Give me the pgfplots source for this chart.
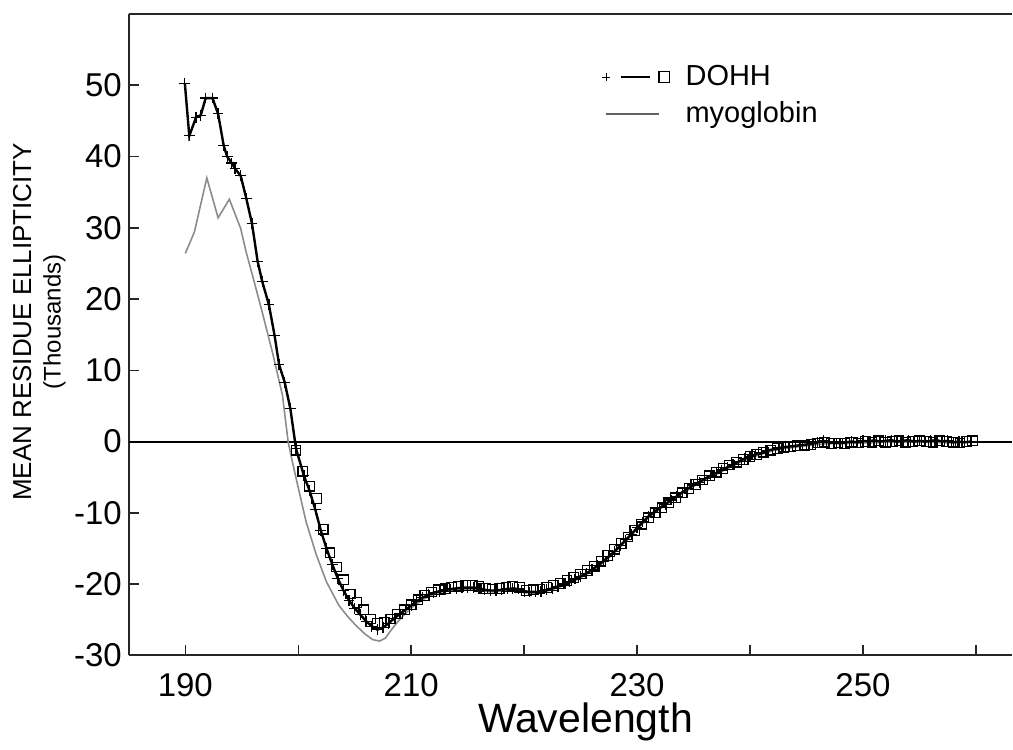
\documentclass[border=0pt]{standalone}
\usepackage{fontspec}
\setmainfont{Liberation Sans}
\usepackage{pgfplots}
\pgfplotsset{compat=1.18}

\definecolor{myo}{HTML}{8C8C8C}

\begin{document}
\begin{tikzpicture}
\begin{axis}[
  scale only axis, width=442pt, height=321pt,
  xmin=185, xmax=263.2, ymin=-30, ymax=60,
  axis x line=box, axis y line=left,
  axis line style={-, line width=1pt, black!85},
  xtick={190,210,230,250}, minor xtick={200,220,240,260},
  ytick={-30,-20,...,50},
  xtick pos=left, ytick pos=left,
  tick align=inside,
  major tick length=5pt, minor tick length=5pt,
  every tick/.style={black!85, line width=0.75pt},
  tick label style={font=\fontsize{16.5}{18}\selectfont},
  /pgf/number format/assume math mode=true,
  xticklabel style={yshift=-5.5pt},
  extra y ticks={0}, extra y tick labels={},
  extra y tick style={grid=major, major grid style={black, line width=1pt}, major tick length=0pt},
  xlabel={Wavelength},
  xlabel style={font=\fontsize{20.5}{22}\selectfont, at={(axis description cs:0.517,0)}, anchor=north, yshift=-20.3pt},
  ylabel={\fontsize{13}{16.5}\selectfont MEAN RESIDUE ELLIPTICITY\\[2.7pt]\fontsize{12}{13}\selectfont (Thousands)},
  ylabel style={align=center, at={(axis description cs:0,0.52)}, anchor=center, yshift=44.85pt},
  reverse legend,
  legend style={at={(axis cs:226.9,53.7)}, anchor=north west, draw=none, fill=none,
    font=\fontsize{14.5}{16}\selectfont, inner sep=0pt,
    nodes={inner ysep=3.2pt, inner xsep=4pt}},
  legend cell align=left,
]
% myoglobin
\addplot[myo, line width=0.8pt,
  legend image code/.code={\draw[myo!70!black, line width=0.9pt] (0pt,0pt) -- (26.5pt,0pt);
    \path (35pt,0pt);}]
  coordinates {
(190.0,26.4) (190.8,29.4) (191.9,37.0) (192.9,31.4) (193.9,34.0) (194.9,29.9)
(195.4,26.5) (196.0,23.0) (196.8,18.2) (197.7,12.6) (198.6,6.5) (199.1,0.0)
(199.5,-3.0) (199.9,-5.8) (200.7,-11.3) (201.6,-15.9) (202.5,-19.7) (203.6,-23.0)
(204.4,-24.6) (205.1,-25.8) (205.9,-27.0) (206.6,-27.8) (207.2,-28.0) (207.7,-27.6)
(208.2,-26.5) (208.8,-25.3) (209.5,-24.1) (210.2,-23.1) (211,-22.2) (212,-21.4)
(213,-21.0) (214,-20.8) (215,-20.7) (216,-20.8) (217,-21.1) (218,-21.0) (219,-20.9)
(220,-21.2) (221,-21.3) (222,-21.0) (223,-20.5) (224,-19.9) (225,-19.1) (226,-18.2)
(227,-17.0) (228,-15.6) (229,-14.0) (230,-12.3) (231,-10.7) (232,-9.5) (233,-8.4)
(234,-7.3) (235,-6.3) (236,-5.4) (237,-4.6) (238,-3.8) (239,-3.0) (240,-2.3)
(241,-1.8) (242,-1.3) (243,-1.0) (244,-0.8) (245,-0.6) (246,-0.4) (247,-0.3)
(248,-0.3) (250,-0.2) (252,-0.1) (254,-0.1) (256,-0.1) (258,-0.2) (259.5,-0.1)
};
\addlegendentry{myoglobin}
% DOHH, crosses
\addplot[black, line width=1.2pt, mark=+, mark size=2.7pt, mark options={line width=0.6pt},
  legend image code/.code={
    \draw[black, line width=1.2pt] (7.5pt,0pt) -- (22pt,0pt);
    \draw[black, line width=0.6pt] plot[mark=+, mark size=2pt] coordinates {(0pt,0pt)};
    \draw[black, line width=0.6pt] plot[mark=square, mark size=2.7pt] coordinates {(29pt,0pt)};
    \path (35pt,0pt);}]
  coordinates {
(189.96,50.2) (190.35,42.9) (190.95,45.5) (191.37,45.8) (191.8,48.2) (192.4,48.2)
(192.9,46.0) (193.4,41.5) (193.7,40.0) (194.1,39.1) (194.4,38.3) (194.9,37.3)
(195.4,34.1) (195.9,30.6) (196.4,25.3) (196.8,22.5) (197.4,19.2) (197.9,14.9)
(198.3,10.8) (198.8,8.3) (199.3,4.6) (199.8,-1.0)
(200.5,-4.8) (201,-6.9) (201.5,-9.5) (202,-12.5) (202.5,-15.0) (203,-17.2)
(203.5,-19.2) (204,-20.9) (204.5,-22.3) (205,-23.4) (205.5,-24.3) (206,-25.2)
(206.5,-25.9) (207,-26.4) (207.5,-26.1) (208,-25.5) (208.5,-24.8) (209,-24.2)
(209.5,-23.6) (210,-23.0) (210.5,-22.4) (211,-21.9) (211.5,-21.5) (212,-21.2)
(212.5,-21.0) (213,-20.8) (213.5,-20.7) (214,-20.6) (214.5,-20.5) (215,-20.5)
(215.5,-20.5) (216,-20.6) (216.5,-20.8) (217,-20.9) (217.5,-20.9) (218,-20.8)
(218.5,-20.7) (219,-20.6) (219.5,-20.7) (220,-21.0) (220.5,-21.1) (221,-21.1)
(221.5,-21.0) (222,-20.8) (222.5,-20.6) (223,-20.3) (223.5,-20.0) (224,-19.7)
(224.5,-19.3) (225,-18.9) (225.5,-18.5) (226,-18.0) (226.5,-17.4) (227,-16.8)
(227.5,-16.1) (228,-15.4) (228.5,-14.6) (229,-13.8) (229.5,-13.0) (230,-12.1)
(230.5,-11.3) (231,-10.5) (231.5,-9.9) (232,-9.3) (232.5,-8.8) (233,-8.2)
(233.5,-7.7) (234,-7.1) (234.5,-6.6) (235,-6.1) (235.5,-5.7) (236,-5.2)
(236.5,-4.8) (237,-4.4) (237.5,-4.0) (238,-3.6) (238.5,-3.2) (239,-2.8)
(239.5,-2.4) (240,-2.1) (240.5,-1.8) (241,-1.6) (241.5,-1.3) (242,-1.1)
(242.5,-0.9) (243,-0.8) (243.5,-0.7) (244,-0.6) (244.5,-0.5) (245,-0.4)
(245.5,-0.3) (246,-0.1) (246.5,0.1) (247,-0.1) (247.5,-0.2) (248,-0.2)
(248.5,-0.1) (249,0.0) (249.5,-0.1) (250,0.1) (250.5,0.0) (251,0.2)
(251.5,0.0) (252,0.1) (252.5,0.2) (253,0.0) (253.5,0.1) (254,0.2)
(254.5,0.0) (255,0.1) (255.5,0.0) (256,0.1) (256.5,0.2) (257,0.0)
(257.5,0.1) (258,-0.1) (258.5,0.0) (259,-0.1) (259.5,0.0)
};
\addlegendentry{DOHH}
% DOHH, squares
\addplot[only marks, black, mark=square, mark size=2.4pt, mark options={line width=0.6pt}, forget plot]
  coordinates {
(199.8,-1.2) (200.4,-4.2) (201.0,-6.3) (201.6,-8.0) (202.2,-12.3) (202.8,-15.6)
(203.4,-17.6) (204.0,-19.4) (204.6,-21.4) (205.2,-22.6) (205.8,-23.6) (206.4,-24.9)
(207.0,-25.5) (207.6,-25.4) (208.2,-24.9) (208.8,-24.2) (209.4,-23.6) (210.0,-22.9)
(210.6,-22.2) (211.2,-21.6) (211.8,-21.1) (212.4,-20.8) (213.0,-20.6) (213.6,-20.4)
(214.2,-20.3) (214.8,-20.2) (215.4,-20.2) (216.0,-20.3) (216.6,-20.6) (217.2,-20.7)
(217.8,-20.6) (218.4,-20.4) (219.0,-20.3) (219.6,-20.5) (220.2,-20.9) (220.8,-20.8)
(221.4,-20.7) (222.0,-20.5) (222.6,-20.2) (223.2,-19.9) (223.8,-19.5) (224.4,-19.1)
(225.0,-18.6) (225.6,-18.1) (226.2,-17.5) (226.8,-16.8) (227.4,-16.0) (228.0,-15.1)
(228.6,-14.3) (229.2,-13.4) (229.8,-12.5) (230.4,-11.6) (231.0,-10.7) (231.6,-10.0)
(232.2,-9.3) (232.8,-8.6) (233.4,-7.9) (234.0,-7.2) (234.6,-6.6) (235.2,-6.0)
(235.8,-5.4) (236.4,-4.8) (237.0,-4.3) (237.6,-3.8) (238.2,-3.3) (238.8,-2.9)
(239.4,-2.5) (240.0,-2.1) (240.6,-1.8) (241.2,-1.5) (241.8,-1.2) (242.4,-1.0)
(243.0,-0.8) (243.6,-0.7) (244.2,-0.6) (244.8,-0.5) (245.4,-0.4) (246.0,-0.2)
(246.6,-0.1) (247.2,-0.3) (247.8,-0.2) (248.4,-0.3) (249.0,-0.1) (249.6,-0.2)
(250.2,0.0) (250.8,-0.1) (251.4,0.1) (252.0,-0.1) (252.6,0.0) (253.2,0.1)
(253.8,-0.1) (254.4,0.0) (255.0,0.1) (255.6,0.0) (256.2,-0.1) (256.8,0.1)
(257.4,0.0) (258.0,-0.1) (258.6,-0.2) (259.2,0.0) (259.7,0.1)
};
\end{axis}
\path ([xshift=-64.5pt,yshift=-47pt]current axis.south west) (current axis.south west);
\path ([yshift=7pt]current axis.north west);
\end{tikzpicture}
\end{document}
